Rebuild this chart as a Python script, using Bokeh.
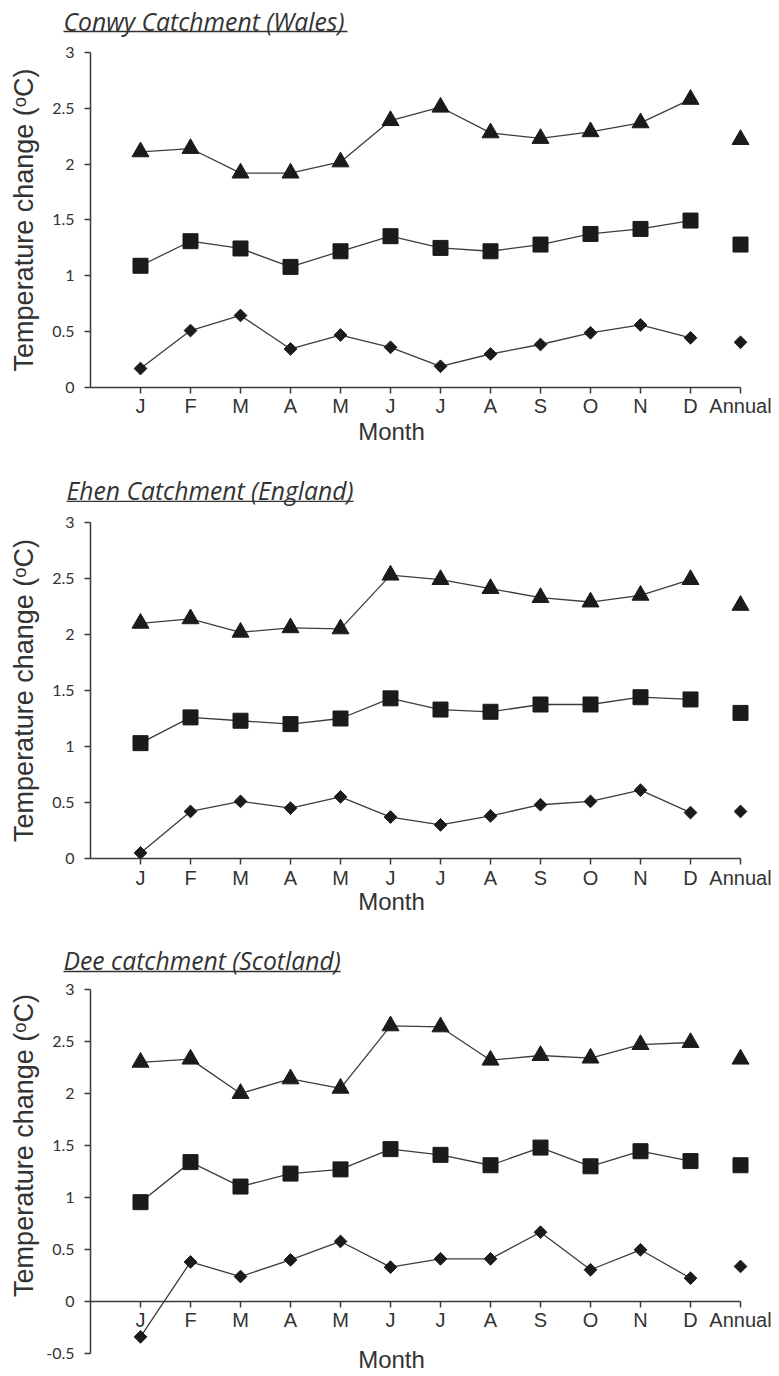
import math
from bokeh.plotting import figure
from bokeh.models import Range1d, LinearAxis, FixedTicker, NumeralTickFormatter
from bokeh.layouts import column
from bokeh.embed import file_html
from bokeh.resources import INLINE
from bokeh.core.properties import value

# ---------------- data ----------------
month_labels = ["J", "F", "M", "A", "M", "J", "J", "A", "S", "O", "N", "D"]
annual_label = "Annual"

titles = ["Conwy Catchment (Wales)", "Ehen Catchment (England)", "Dee catchment (Scotland)"]
y_title = "Temperature change (ᵒC)"
x_title = "Month"

conwy_high = [2.11, 2.14, 1.92, 1.92, 2.02, 2.39, 2.51, 2.28, 2.23, 2.29, 2.37, 2.58]
conwy_mid = [1.09, 1.31, 1.245, 1.08, 1.22, 1.355, 1.25, 1.22, 1.28, 1.375, 1.42, 1.495]
conwy_low = [0.17, 0.51, 0.645, 0.345, 0.47, 0.36, 0.19, 0.30, 0.385, 0.49, 0.56, 0.445]
conwy_annual = [2.22, 1.28, 0.405]

ehen_high = [2.10, 2.14, 2.02, 2.06, 2.05, 2.53, 2.49, 2.41, 2.33, 2.29, 2.35, 2.49]
ehen_mid = [1.03, 1.26, 1.23, 1.20, 1.25, 1.43, 1.33, 1.31, 1.375, 1.375, 1.44, 1.42]
ehen_low = [0.05, 0.42, 0.51, 0.45, 0.55, 0.37, 0.30, 0.38, 0.48, 0.51, 0.61, 0.41]
ehen_annual = [2.26, 1.30, 0.42]

dee_high = [2.30, 2.33, 2.00, 2.14, 2.05, 2.65, 2.64, 2.32, 2.365, 2.34, 2.47, 2.49]
dee_mid = [0.955, 1.34, 1.105, 1.23, 1.27, 1.465, 1.41, 1.31, 1.48, 1.30, 1.445, 1.35]
dee_low = [-0.34, 0.38, 0.24, 0.40, 0.577, 0.33, 0.41, 0.41, 0.666, 0.305, 0.497, 0.224]
dee_annual = [2.33, 1.31, 0.337]

y_ticks_pos = [0, 0.5, 1, 1.5, 2, 2.5, 3]
y_ticks_neg = [-0.5, 0, 0.5, 1, 1.5, 2, 2.5, 3]

# ---------------- style ----------------
INK = "#1b1b1b"
LINE = "#3c3c3c"
TXT = "#333333"
AX = "#3a3a3a"
X_RANGE = (-1.8, 13.78)
FIG_W = 779


def make_panel(title, high, mid, low, annual, yticks, yr, height,
               title_v, ul_v, title_x0, ul_x1, month_v):
    p = figure(width=FIG_W, height=height,
               x_range=Range1d(*X_RANGE), y_range=Range1d(*yr),
               x_axis_type=None, y_axis_type=None,
               toolbar_location=None, output_backend="svg",
               min_border=0, outline_line_color=None)
    p.background_fill_color = "white"
    p.border_fill_color = "white"

    xs = list(range(1, len(month_labels) + 1))
    xa = len(month_labels) + 1

    # axes
    overrides = {i + 1: m for i, m in enumerate(month_labels)}
    overrides[xa] = annual_label
    xaxis = LinearAxis(fixed_location=0, bounds=(0, xa),
                       ticker=FixedTicker(ticks=xs + [xa]),
                       major_label_overrides=overrides)
    xaxis.axis_line_color = AX
    xaxis.axis_line_width = 1.5
    xaxis.major_tick_line_color = AX
    xaxis.major_tick_line_width = 1.5
    xaxis.major_tick_out = 6
    xaxis.major_tick_in = 0
    xaxis.minor_tick_line_color = None
    xaxis.major_label_standoff = 2
    xaxis.major_label_text_font = "Liberation Sans"
    xaxis.major_label_text_font_size = "20px"
    xaxis.major_label_text_color = TXT
    p.add_layout(xaxis, "below")

    yaxis = LinearAxis(fixed_location=0, bounds=(yticks[0], yticks[-1]),
                       ticker=FixedTicker(ticks=yticks),
                       formatter=NumeralTickFormatter(format="0.[0]"))
    yaxis.axis_line_color = AX
    yaxis.axis_line_width = 1.5
    yaxis.major_tick_line_color = AX
    yaxis.major_tick_line_width = 1.5
    yaxis.major_tick_out = 6
    yaxis.major_tick_in = 0
    yaxis.minor_tick_line_color = None
    yaxis.major_label_standoff = 10
    yaxis.major_label_text_font = "Lato"
    yaxis.major_label_text_font_size = "16px"
    yaxis.major_label_text_color = TXT
    p.add_layout(yaxis, "left")

    # series
    for ys, marker, size, angle in ((high, "triangle", 17, 0.0),
                                    (mid, "square", 15, 0.0),
                                    (low, "square", 9, math.pi / 4)):
        p.line(xs, ys, line_color=LINE, line_width=1.3)
        p.scatter(xs, ys, marker=marker, size=size, angle=angle,
                  fill_color=INK, line_color=INK)
    p.scatter([xa], [annual[0]], marker="triangle", size=17, fill_color=INK, line_color=INK)
    p.scatter([xa], [annual[1]], marker="square", size=15, fill_color=INK, line_color=INK)
    p.scatter([xa], [annual[2]], marker="square", size=9, angle=math.pi / 4,
              fill_color=INK, line_color=INK)

    # title (italic, underlined)
    p.text(x=[title_x0], y=[title_v], text=[title],
           text_font=value("Open Sans"), text_font_style="italic",
           text_font_size="24.7px", text_color=TXT,
           text_align="left", text_baseline="middle")
    p.line([title_x0, ul_x1], [ul_v, ul_v], line_color=TXT, line_width=1.3)

    # axis titles
    p.text(x=[-1.34], y=[1.5], text=[y_title], angle=math.pi / 2,
           text_font=value("Liberation Sans"), text_font_size="27px",
           text_color=TXT, text_align="center", text_baseline="middle")
    p.text(x=[6.02], y=[month_v], text=[x_title],
           text_font=value("Liberation Sans"), text_font_size="24px",
           text_color=TXT, text_align="center", text_baseline="middle")
    return p


p1 = make_panel(titles[0], conwy_high, conwy_mid, conwy_low, conwy_annual,
                y_ticks_pos, (-0.6806, 3.4656), 463,
                3.278, 3.188, -0.54, 5.14, -0.394)
p2 = make_panel(titles[1], ehen_high, ehen_mid, ehen_low, ehen_annual,
                y_ticks_pos, (-0.6875, 3.5268), 472,
                3.286, 3.188, -0.48, 5.26, -0.388)
p3 = make_panel(titles[2], dee_high, dee_mid, dee_low, dee_annual,
                y_ticks_neg, (-0.702, 3.519), 439,
                3.279, 3.173, -0.54, 5.0, -0.562)

layout = column(p1, p2, p3, spacing=0)
open("out.html", "w").write(file_html(layout, INLINE))
